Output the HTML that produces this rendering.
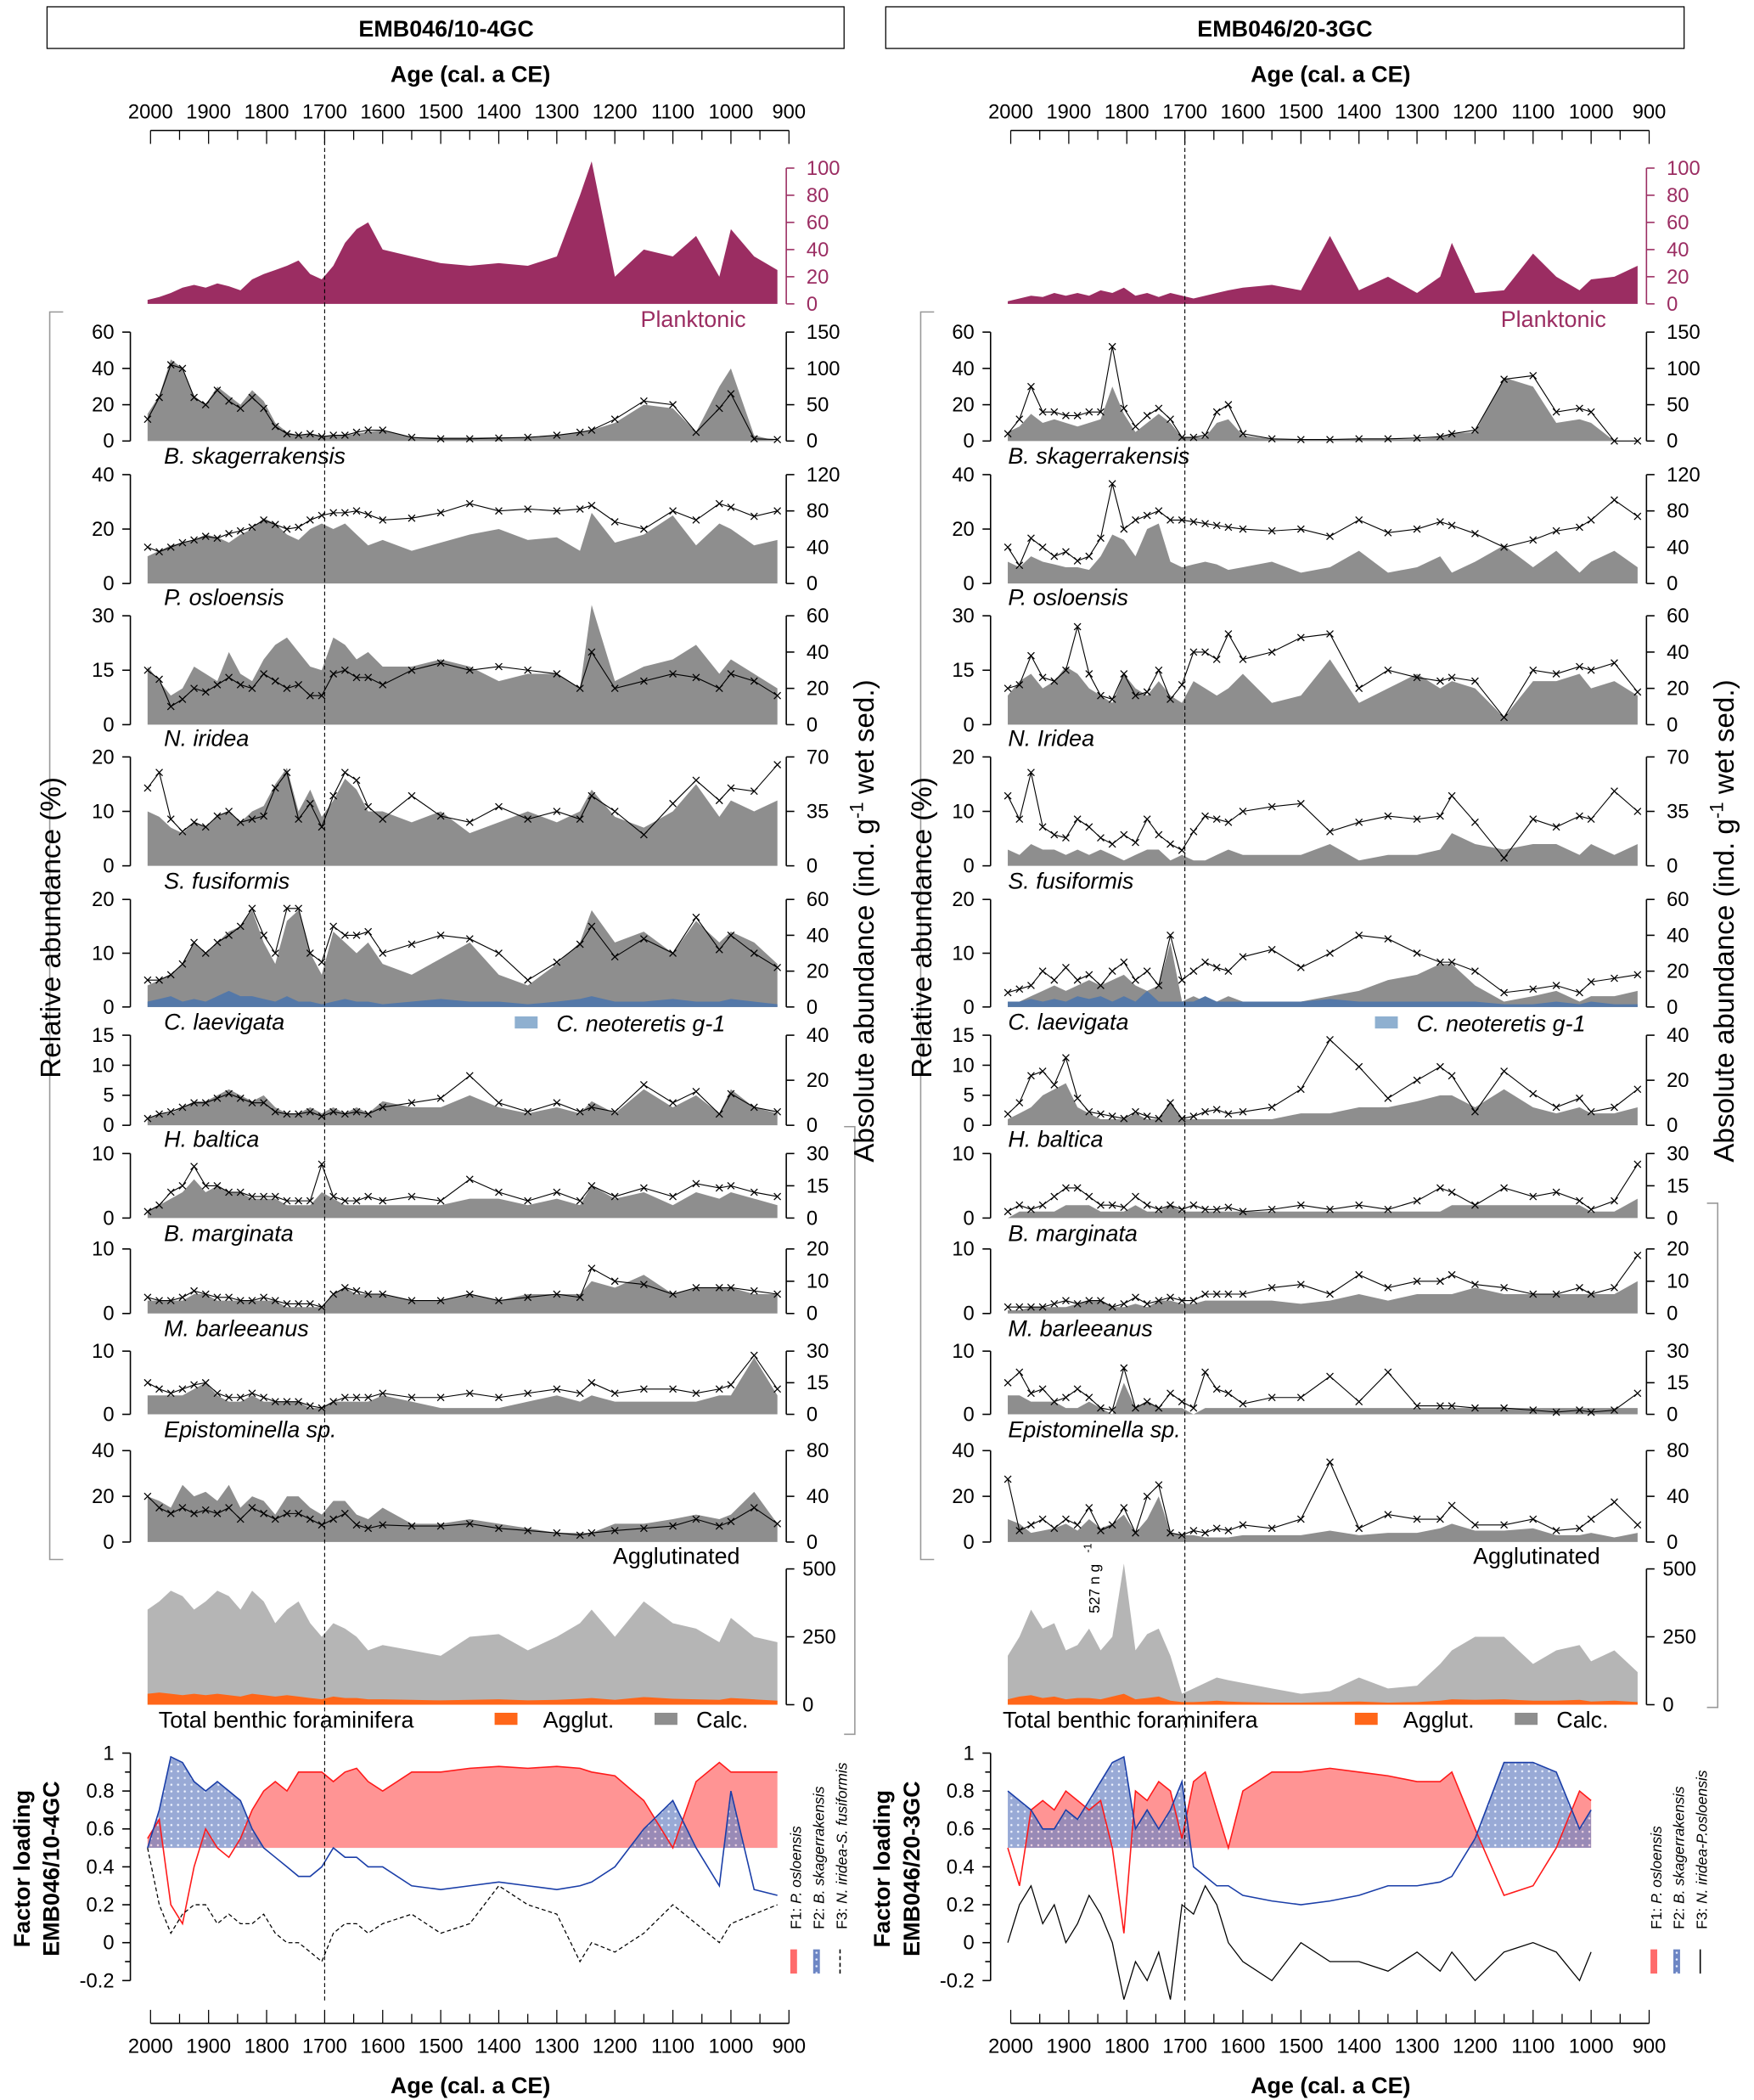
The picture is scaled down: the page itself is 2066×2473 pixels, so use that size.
<!DOCTYPE html>
<html><head><meta charset="utf-8">
<style>
html,body{margin:0;padding:0;background:#fff;}
svg{display:block;}
text{font-family:"Liberation Sans Narrow","Liberation Sans",sans-serif;}
.it{font-style:italic;font-family:"Liberation Sans",sans-serif;}
</style></head>
<body>
<svg id="fig" width="2066" height="2473" viewBox="0 0 1305 1562" xmlns="http://www.w3.org/2000/svg">
<defs>
<pattern id="dots" width="5" height="5" patternUnits="userSpaceOnUse">
<rect width="5" height="5" fill="#6d86c4"/>
<circle cx="2.5" cy="2.5" r="0.8" fill="#e8eeff"/>
</pattern>
</defs>
</svg>
<script>
const ages=[2005,1985,1965,1945,1925,1905,1885,1865,1845,1825,1805,1785,1765,1745,1725,1705,1685,1665,1645,1625,1600,1550,1500,1450,1400,1350,1300,1260,1240,1200,1150,1100,1060,1020,1000,960,920];
const ageTicks=[2000,1900,1800,1700,1600,1500,1400,1300,1200,1100,1000,900];
// LEFT core EMB046/10-4GC
const leftPlank=[3,5,8,12,14,12,15,13,10,18,22,25,28,32,22,18,28,45,55,60,40,35,30,28,30,28,35,80,105,20,40,35,50,20,55,35,25];
const leftBskFill=[15,25,45,40,25,20,30,25,20,28,22,10,5,3,4,3,3,3,4,5,6,2,2,2,2,2,3,5,6,10,20,18,5,30,40,3,0];
const leftBskLine=[30,60,105,100,60,50,70,55,45,60,45,20,10,8,10,6,8,8,12,15,15,5,3,3,4,5,8,12,15,30,55,50,12,45,65,3,2];
const leftPosFill=[10,12,14,15,16,18,17,15,18,20,24,22,18,16,20,22,20,22,18,14,16,12,15,18,20,16,17,12,26,15,18,25,14,22,20,14,16];
const leftPosLine=[40,35,40,45,48,52,50,55,58,62,70,65,60,62,70,75,78,78,80,76,70,72,78,88,80,82,80,82,86,68,60,80,70,88,84,74,80];
const leftNirFill=[16,12,8,10,16,14,12,20,14,12,18,22,24,20,16,15,24,22,18,20,16,16,18,16,12,14,14,10,33,12,16,18,22,14,18,14,10];
const leftNirLine=[30,25,10,14,20,18,22,26,22,20,28,24,20,22,16,16,28,30,26,26,22,30,34,30,32,30,28,20,40,20,24,28,26,20,28,24,16];
const leftSfuFill=[10,9,7,6,8,7,9,10,8,10,11,15,18,10,14,9,12,16,14,10,10,8,10,6,8,10,8,10,14,9,7,10,15,9,12,10,12];
const leftSfuLine=[50,60,30,22,28,25,32,35,28,30,32,50,60,30,40,25,45,60,55,38,30,45,32,28,38,30,35,30,45,35,20,40,55,42,50,48,65];
const leftClaFill=[4,5,6,8,12,10,12,14,15,18,12,8,16,18,10,6,14,12,10,12,8,6,9,12,6,4,8,12,18,12,14,10,16,12,14,12,8];
const leftClaLine=[15,15,18,24,36,30,36,40,45,55,40,30,55,55,30,25,45,40,40,42,30,35,40,38,30,15,25,35,45,28,38,30,50,32,40,30,22];
const leftCneo=[1,1.5,2,1,1.5,1,2,3,2,2,1.5,1,2,1,1,0.5,1,1.5,1,1,0.5,1,1.5,1,1,0.5,1,1.5,2,1,1,1.5,1,1,1.5,1,0.5];
const leftHbaFill=[1,2,2,3,4,4,5,6,5,4,5,3,2,2,3,2,3,2,3,2,4,3,3,5,3,2,3,2,4,2,6,3,5,2,6,3,2];
const leftHbaLine=[3,5,6,8,10,10,12,14,12,10,10,6,5,5,6,4,6,5,6,5,8,10,12,22,10,6,10,6,8,6,18,10,15,5,14,8,6];
const leftBmaFill=[1,2,3,4,6,4,5,4,4,3,3,3,2,2,2,4,3,2,2,2,2,2,2,3,3,2,3,2,5,3,4,2,4,3,4,3,2];
const leftBmaLine=[3,6,12,15,24,15,15,12,12,10,10,10,8,8,8,25,10,8,8,10,8,10,8,18,12,8,12,8,15,10,14,10,16,14,15,12,10];
const leftMbaFill=[2,2,2,2,3,3,2,2,2,2,2,2,1,1,1,1,3,4,3,3,3,2,2,3,2,3,3,3,5,4,6,3,4,4,4,3,3];
const leftMbaLine=[5,4,4,5,7,6,5,5,4,4,5,4,3,3,3,2,6,8,7,6,6,4,4,6,4,5,6,5,14,10,9,6,8,8,8,7,6];
const leftEpiFill=[3,3,3,3,4,5,3,2,2,3,2,2,2,2,1,1,2,2,2,2,3,2,1,1,1,2,3,2,3,2,2,2,2,3,3,9,3];
const leftEpiLine=[15,12,10,12,14,15,10,8,8,10,8,6,6,6,4,3,6,8,8,8,10,8,8,10,8,10,12,10,15,10,12,12,10,12,14,28,12];
const leftAggFill=[20,18,15,25,20,22,18,25,15,20,18,12,20,20,15,12,18,18,12,10,15,8,8,10,8,6,4,4,4,8,8,10,12,10,12,22,8];
const leftAggLine=[40,30,25,30,25,28,25,30,20,30,25,20,25,25,20,15,20,25,15,12,15,14,14,16,12,10,8,6,8,10,12,14,20,14,18,30,16];
const leftTotCalc=[350,380,420,400,350,380,420,400,350,420,380,300,350,380,300,250,300,280,250,200,220,200,180,250,260,200,250,300,350,250,380,300,280,230,320,250,230];
const leftTotAgg=[40,45,40,35,40,35,40,35,30,40,35,30,35,30,25,20,30,25,25,20,20,18,16,18,20,16,18,22,25,18,28,22,20,18,25,20,15];
const leftF1=[0.55,0.65,0.2,0.1,0.4,0.6,0.5,0.45,0.55,0.7,0.8,0.85,0.8,0.9,0.9,0.9,0.85,0.9,0.92,0.85,0.8,0.9,0.9,0.92,0.93,0.92,0.93,0.92,0.9,0.88,0.75,0.5,0.85,0.95,0.9,0.9,0.9];
const leftF2=[0.5,0.7,0.98,0.95,0.85,0.8,0.85,0.8,0.75,0.6,0.5,0.45,0.4,0.35,0.35,0.4,0.5,0.45,0.45,0.4,0.4,0.3,0.28,0.3,0.32,0.3,0.28,0.3,0.32,0.4,0.6,0.75,0.5,0.3,0.8,0.28,0.25];
const leftF3=[0.5,0.2,0.05,0.15,0.2,0.2,0.1,0.15,0.1,0.1,0.15,0.05,0.0,0.0,-0.05,-0.1,0.05,0.1,0.1,0.05,0.1,0.15,0.05,0.1,0.3,0.2,0.15,-0.1,0.0,-0.05,0.05,0.2,0.1,0.0,0.1,0.15,0.2];
// RIGHT core EMB046/20-3GC
const rightPlank=[2,4,6,5,8,6,8,6,10,8,12,6,8,5,8,6,4,6,8,10,12,14,10,50,10,20,8,20,45,8,10,37,20,10,18,20,28];
const rightBskFill=[5,8,15,10,12,10,8,10,12,30,15,5,10,15,10,2,2,2,10,12,3,1,1,1,1,1,1,2,4,5,35,30,10,12,10,0,0];
const rightBskLine=[10,30,75,40,40,35,35,40,40,130,45,20,35,45,30,5,5,8,40,50,10,3,2,2,3,3,4,6,10,15,85,90,40,45,40,0,0];
const rightPosFill=[8,6,10,8,7,6,6,5,10,18,16,10,20,22,8,6,7,8,7,5,6,8,4,6,12,4,6,10,4,8,14,6,12,4,8,12,6];
const rightPosLine=[40,20,50,40,30,35,25,30,50,110,60,70,75,80,70,70,68,66,64,62,60,58,60,52,70,56,60,68,64,55,40,48,58,62,70,92,74];
const rightNirFill=[8,12,14,10,12,16,14,10,8,6,14,10,8,12,8,6,12,10,8,10,14,6,8,18,6,10,14,10,12,10,2,12,12,14,10,12,8];
const rightNirLine=[20,22,38,26,24,30,54,28,16,14,28,16,18,30,14,22,40,40,36,50,36,40,48,50,20,30,26,24,26,24,4,30,28,32,30,34,18];
const rightSfuFill=[3,2,4,3,3,2,3,2,3,2,1,2,3,3,1,2,1,1,2,3,2,2,2,4,1,2,2,3,6,4,3,4,4,2,4,2,4];
const rightSfuLine=[45,30,60,25,20,18,30,25,18,14,20,15,30,20,14,10,22,32,30,28,35,38,40,22,28,32,30,32,45,28,5,30,25,32,30,48,35];
const rightClaFill=[1,1,2,3,4,3,4,5,4,5,6,4,3,4,12,1,2,1,1,2,1,1,1,2,3,5,6,8,8,4,1,2,3,1,2,2,3];
const rightClaLine=[8,10,12,20,15,22,15,18,12,20,25,15,20,12,40,15,20,25,22,20,28,32,22,30,40,38,30,25,25,20,8,10,12,8,14,16,18];
const rightCneo=[1,1,1.5,1,1.5,1,2,1.5,2,1,2,1,3,1,1,1,1,2,1,1,1,1,1,1.5,1,1,1,1,1,1,0.5,0.5,1,0.5,1,0.5,0.5];
const rightHbaFill=[1,2,3,5,6,7,3,2,1,1,1,2,1,1,4,1,1,1,1,1,1,1,2,2,3,3,4,5,5,3,6,3,2,3,2,2,3];
const rightHbaLine=[5,10,22,24,18,30,12,6,5,4,3,6,4,3,10,3,4,6,7,5,6,8,16,38,26,12,20,26,22,6,24,14,8,12,6,8,16];
const rightBmaFill=[0,1,1,1,1,2,2,2,1,1,1,2,1,1,2,1,1,1,1,1,1,1,1,1,1,1,1,1,2,2,2,2,2,2,1,1,3];
const rightBmaLine=[3,6,4,6,10,14,14,10,6,6,5,10,6,4,6,4,6,4,4,5,3,4,6,4,6,4,8,14,12,6,14,10,12,8,4,8,25];
const rightMbaFill=[0.5,0.5,1,1,1,1,1.5,2,2,1,1,1.5,1,2,2,1.5,1.5,2,2,2,2,2,1.5,2,3,2,3,3,3,4,3,3,3,3,3,3,5];
const rightMbaLine=[2,2,2,2,3,4,3,4,4,2,3,5,3,4,5,4,4,6,6,6,6,8,9,6,12,8,10,10,12,9,8,6,6,8,6,8,18];
const rightEpiFill=[3,3,2,2,2,1,1,2,1,0,5,1,2,1,1,1,0,1,1,1,1,1,1,1,1,1,1,1,1,1,1,1,1,1,1,1,1];
const rightEpiLine=[15,20,10,12,6,8,12,8,3,2,22,3,6,3,10,6,3,20,12,10,5,8,8,18,6,20,4,4,4,3,3,2,1,2,1,2,10];
const rightAggFill=[10,8,4,5,6,8,5,10,6,8,12,4,10,20,4,3,3,2,2,2,3,3,3,5,3,4,4,6,8,5,5,6,3,3,4,2,4];
const rightAggLine=[55,10,15,20,12,20,15,30,10,15,30,8,40,50,8,6,10,8,12,10,15,12,20,70,12,24,20,20,32,15,15,20,10,12,20,35,15];
const rightTotCalc=[180,250,350,280,300,200,220,280,200,250,520,200,260,280,180,40,60,80,100,90,80,60,40,50,100,60,70,150,200,250,250,150,200,220,160,200,120];
const rightTotAgg=[20,30,35,25,30,20,25,25,20,30,40,20,25,30,15,10,10,12,15,12,10,8,8,10,12,8,10,15,20,18,20,15,15,18,12,15,10];
const rightF1=[0.5,0.3,0.7,0.75,0.7,0.8,0.75,0.7,0.75,0.5,0.05,0.8,0.75,0.85,0.8,0.55,0.85,0.9,0.7,0.5,0.8,0.9,0.9,0.92,0.9,0.88,0.85,0.85,0.9,0.6,0.25,0.3,0.5,0.8,0.75];
const rightF2=[0.8,0.75,0.7,0.6,0.6,0.7,0.65,0.75,0.85,0.95,0.98,0.6,0.7,0.6,0.7,0.85,0.4,0.35,0.3,0.3,0.25,0.22,0.2,0.22,0.25,0.3,0.3,0.32,0.35,0.55,0.95,0.95,0.9,0.6,0.7];
const rightF3=[0.0,0.2,0.3,0.1,0.2,0.0,0.1,0.25,0.15,0.0,-0.3,-0.1,-0.2,-0.05,-0.3,0.2,0.15,0.3,0.2,0.0,-0.1,-0.2,0.0,-0.1,-0.1,-0.15,-0.05,-0.15,-0.05,-0.2,-0.05,0.0,-0.05,-0.2,-0.05];

const svg=document.getElementById('fig');
const NS='http://www.w3.org/2000/svg';
function mk(tag,attrs,parent){const e=document.createElementNS(NS,tag);for(const k in attrs)e.setAttribute(k,attrs[k]);(parent||svg).appendChild(e);return e;}
function txt(s,x,y,size,opts,parent){const e=mk('text',Object.assign({x:x,y:y,'font-size':size},opts||{}),parent);e.textContent=s;return e;}

const cols=[
 {off:0,name:'EMB046/10-4GC',sp3:'N. iridea',f3:'F3: N. iridea-S. fusiformis',f3dash:'3,2',
  d:{plank:leftPlank,Bsk:[leftBskFill,leftBskLine],Pos:[leftPosFill,leftPosLine],Nir:[leftNirFill,leftNirLine],Sfu:[leftSfuFill,leftSfuLine],Cla:[leftClaFill,leftClaLine],Hba:[leftHbaFill,leftHbaLine],Bma:[leftBmaFill,leftBmaLine],Mba:[leftMbaFill,leftMbaLine],Epi:[leftEpiFill,leftEpiLine],Agg:[leftAggFill,leftAggLine],cneo:leftCneo,calc:leftTotCalc,agg:leftTotAgg,F1:leftF1,F2:leftF2,F3:leftF3}},
 {off:640,name:'EMB046/20-3GC',sp3:'N. Iridea',f3:'F3: N. iridea-P.osloensis',f3dash:'',
  d:{plank:rightPlank,Bsk:[rightBskFill,rightBskLine],Pos:[rightPosFill,rightPosLine],Nir:[rightNirFill,rightNirLine],Sfu:[rightSfuFill,rightSfuLine],Cla:[rightClaFill,rightClaLine],Hba:[rightHbaFill,rightHbaLine],Bma:[rightBmaFill,rightBmaLine],Mba:[rightMbaFill,rightMbaLine],Epi:[rightEpiFill,rightEpiLine],Agg:[rightAggFill,rightAggLine],cneo:rightCneo,calc:rightTotCalc,agg:rightTotAgg,F1:rightF1,F2:rightF2,F3:rightF3}}
];
const panels=[
 {k:'Bsk',y0:328,y1:247,lm:60,lt:[0,20,40,60],rm:150,rt:[0,50,100,150],lab:'B. skagerrakensis',ly:345},
 {k:'Pos',y0:434,y1:353,lm:40,lt:[0,20,40],rm:120,rt:[0,40,80,120],lab:'P. osloensis',ly:450},
 {k:'Nir',y0:539,y1:458,lm:30,lt:[0,15,30],rm:60,rt:[0,20,40,60],lab:'sp3',ly:555},
 {k:'Sfu',y0:644,y1:563,lm:20,lt:[0,10,20],rm:70,rt:[0,35,70],lab:'S. fusiformis',ly:661},
 {k:'Cla',y0:749,y1:669,lm:20,lt:[0,10,20],rm:60,rt:[0,20,40,60],lab:'C. laevigata',ly:766},
 {k:'Hba',y0:837,y1:770,lm:15,lt:[0,5,10,15],rm:40,rt:[0,20,40],lab:'H. baltica',ly:853},
 {k:'Bma',y0:906,y1:858,lm:10,lt:[0,10],rm:30,rt:[0,15,30],lab:'B. marginata',ly:923},
 {k:'Mba',y0:977,y1:929,lm:10,lt:[0,10],rm:20,rt:[0,10,20],lab:'M. barleeanus',ly:994},
 {k:'Epi',y0:1052,y1:1005,lm:10,lt:[0,10],rm:30,rt:[0,15,30],lab:'Epistominella sp.',ly:1069},
 {k:'Agg',y0:1147,y1:1079,lm:40,lt:[0,20,40],rm:80,rt:[0,40,80],lab:'',ly:0}
];

function lin(d0,d1,r0,r1){return v=>r0+(v-d0)*(r1-r0)/(d1-d0);}
function areaPts(xs,ys,base){let p=xs[0].toFixed(1)+','+base;for(let i=0;i<xs.length;i++)p+=' '+xs[i].toFixed(1)+','+ys[i].toFixed(1);p+=' '+xs[xs.length-1].toFixed(1)+','+base;return p;}
function linePts(xs,ys){return xs.map((x,i)=>x.toFixed(1)+','+ys[i].toFixed(1)).join(' ');}

cols.forEach((c,ci)=>{
 const g=mk('g',{});
 
 
 const ax=lin(2000,900,112+c.off,587+c.off);
 const AL=97+c.off, AR=585+c.off;
 const hb=mk('rect',{x:ci?659:35,y:5,width:ci?594:593,height:31,fill:'none',stroke:'#000','stroke-width':0.8},g);
 
 
 const ht=txt(c.name,ci?956:332,27,17,{'font-weight':'bold','text-anchor':'middle'},g);
 
 
 const tt=txt('Age (cal. a CE)',350+c.off,61,17,{'font-weight':'bold','text-anchor':'middle'},g);
 
 
 [[97,88,-1],[1505,1527,1]].forEach((a,ai)=>{
  const axg=mk('g',{},g);
  
  
  mk('line',{x1:ax(2000),x2:ax(900),y1:a[0],y2:a[0],stroke:'#000','stroke-width':1},axg);
  for(let y=2000;y>=900;y-=50){const big=y%100==0;mk('line',{x1:ax(y),x2:ax(y),y1:a[0],y2:a[0]+(ai==0?(big?10:7):-(big?10:7)),stroke:'#000','stroke-width':0.8},axg);}
  ageTicks.forEach(t=>{const e=txt(String(t),ax(t),a[1],15,{'text-anchor':'middle'},axg);});
 });
 const bt=txt('Age (cal. a CE)',350+c.off,1557,17,{'font-weight':'bold','text-anchor':'middle'},g);
 
 
 const xs=ages.map(ax);
 const py=lin(0,100,226,125);
 const pf=mk('polygon',{points:areaPts(xs,c.d.plank.map(py),226),fill:'#9b2d62'},g);
 
 
 mk('line',{x1:AR,x2:AR,y1:125,y2:226,stroke:'#9b2d62','stroke-width':1},g);
 [0,20,40,60,80,100].forEach(t=>{mk('line',{x1:AR,x2:AR+6,y1:py(t),y2:py(t),stroke:'#9b2d62'},g);const e=txt(String(t),AR+15,py(t)+5,15,{fill:'#9b2d62'},g);});
 const pl=txt('Planktonic',AR-30,243,17,{fill:'#9b2d62','text-anchor':'end'},g);
 
 
 const labX=ci?750:122;
 panels.forEach(p=>{
  const pg=mk('g',{},g);
  
  
  const yl=lin(0,p.lm,p.y0,p.y1), yr=lin(0,p.rm,p.y0,p.y1);
  const [f,l]=c.d[p.k];
  const fa=mk('polygon',{points:areaPts(xs,f.map(yl),p.y0),fill:'#8e8e8e'},pg);
  
  
  if(p.k=='Cla'){const b=mk('polygon',{points:areaPts(xs,c.d.cneo.map(yl),p.y0),fill:'#5478a8'},pg);}
  const ly=l.map(yr);
  const ln=mk('polyline',{points:linePts(xs,ly),fill:'none',stroke:'#000','stroke-width':0.7},pg);
  
  
  xs.forEach((x,i)=>{const m=mk('path',{d:`M${x-2.5},${ly[i]-2.5}L${x+2.5},${ly[i]+2.5}M${x-2.5},${ly[i]+2.5}L${x+2.5},${ly[i]-2.5}`,stroke:'#000','stroke-width':0.8},pg);});
  mk('line',{x1:AL,x2:AL,y1:p.y1,y2:p.y0,stroke:'#000','stroke-width':1},pg);
  mk('line',{x1:AR,x2:AR,y1:p.y1,y2:p.y0,stroke:'#000','stroke-width':1},pg);
  p.lt.forEach(t=>{mk('line',{x1:AL-6,x2:AL,y1:yl(t),y2:yl(t),stroke:'#000'},pg);const e=txt(String(t),AL-12,yl(t)+5,15,{'text-anchor':'end'},pg);});
  p.rt.forEach(t=>{mk('line',{x1:AR,x2:AR+6,y1:yr(t),y2:yr(t),stroke:'#000'},pg);const e=txt(String(t),AR+15,yr(t)+5,15,{},pg);});
  if(p.lab){const e=txt(p.lab=='sp3'?c.sp3:p.lab,labX,p.ly,17,{class:'it'},pg);}
 });
 const ag=txt('Agglutinated',456+c.off,1163,17,{},g);
 
 
 mk('rect',{x:383+c.off,y:756,width:17,height:9,fill:'#8fb0d0'},g);
 const cn=txt('C. neoteretis g-1',414+c.off,767,17,{class:'it'},g);
 
 
 const ty=lin(0,500,1268,1167);
 const tc=mk('polygon',{points:areaPts(xs,c.d.calc.map(v=>ty(Math.min(v,520))),1268),fill:'#b5b5b5'},g);
 
 
 const to=mk('polygon',{points:areaPts(xs,c.d.agg.map(ty),1268),fill:'#ff6619'},g);
 
 
 mk('line',{x1:AR,x2:AR,y1:1167,y2:1268,stroke:'#000'},g);
 [0,250,500].forEach(t=>{mk('line',{x1:AR,x2:AR+6,y1:ty(t),y2:ty(t),stroke:'#000'},g);const e=txt(String(t),AR+12,ty(t)+5,15,{},g);});
 const tb=txt('Total benthic foraminifera',ci?746:118,1285,17,{},g);
 
 
 mk('rect',{x:368+c.off,y:1274,width:17,height:9,fill:'#ff6619'},g);
 const la=txt('Agglut.',404+c.off,1285,17,{},g);
 
 
 mk('rect',{x:487+c.off,y:1274,width:17,height:9,fill:'#8e8e8e'},g);
 const lc=txt('Calc.',518+c.off,1285,17,{},g);
 
 
 if(ci==1){const a=txt('527 n g',818,1200,11,{transform:'rotate(-90 818 1200)'},g);txt('-1',812,1155,8,{transform:'rotate(-90 812 1155)'},g);}
 const fy=lin(0,1,1445,1304);
 const fxs=xs.slice(0,c.d.F1.length);
 const clipId='clip'+ci;
 const cp=mk('clipPath',{id:clipId},g);
 mk('rect',{x:AL,y:1290,width:AR-AL,height:fy(0.5)-1290},cp);
 const r=mk('polygon',{points:areaPts(fxs,c.d.F1.map(fy),fy(0.5)),fill:'#ff6b6b','fill-opacity':0.72,'clip-path':`url(#${clipId})`},g);
 
 
 const b=mk('polygon',{points:areaPts(fxs,c.d.F2.map(fy),fy(0.5)),fill:'url(#dots)','fill-opacity':0.7,'clip-path':`url(#${clipId})`},g);
 
 
 const l1=mk('polyline',{points:linePts(fxs,c.d.F1.map(fy)),fill:'none',stroke:'#ff1a1a','stroke-width':1},g);
 
 
 const l2=mk('polyline',{points:linePts(fxs,c.d.F2.map(fy)),fill:'none',stroke:'#1a3ea8','stroke-width':1},g);
 
 
 const f3o={points:linePts(fxs,c.d.F3.map(fy)),fill:'none',stroke:'#000','stroke-width':0.8};
 if(c.f3dash)f3o['stroke-dasharray']=c.f3dash;
 const l3=mk('polyline',f3o,g);
 
 
 mk('line',{x1:AL,x2:AL,y1:fy(1),y2:fy(-0.2),stroke:'#000'},g);
 [1,0.8,0.6,0.4,0.2,0,-0.2].forEach(t=>{mk('line',{x1:AL-6,x2:AL,y1:fy(t),y2:fy(t),stroke:'#000'},g);const e=txt(String(t),AL-12,fy(t)+5,15,{'text-anchor':'end'},g);});
 [0.9,0.7,0.5,0.3,0.1,-0.1].forEach(t=>mk('line',{x1:AL-4,x2:AL,y1:fy(t),y2:fy(t),stroke:'#000'},g));
 const fl=txt('Factor loading',22+c.off,1390,17,{'font-weight':'bold','font-family':'Liberation Sans','text-anchor':'middle',transform:`rotate(-90 ${22+c.off} 1390)`},g);
 
 
 const fl2=txt(c.name,44+c.off,1390,17,{'font-weight':'bold','font-family':'Liberation Sans','text-anchor':'middle',transform:`rotate(-90 ${44+c.off} 1390)`},g);
 
 
 const legs=[['F1: ','P. osloensis','#ff6b6b'],['F2: ','B. skagerrakensis','url(#dots)'],[c.f3.slice(0,4),c.f3.slice(4),'none']];
 legs.forEach((L,i)=>{const x=596+c.off+i*17;const e=txt('',x,1435,11,{transform:`rotate(-90 ${x} 1435)`},g);const s1=mk('tspan',{},e);s1.textContent=L[0];const s2=mk('tspan',{'font-style':'italic'},e);s2.textContent=L[1];
  if(i<2)mk('rect',{x:x-8,y:1450,width:5,height:18,fill:L[2]},g);else{mk('line',{x1:x-5,x2:x-5,y1:1450,y2:1468,stroke:'#000','stroke-dasharray':c.f3dash||'none'},g);}
 });
 const dl=mk('line',{x1:ax(1700),x2:ax(1700),y1:100,y2:1490,stroke:'#000','stroke-width':0.7,'stroke-dasharray':'3,2'},g);
 
 
 const bx=37+c.off+(ci?8:0);
 mk('path',{d:`M${bx+10},232H${bx}V1160H${bx+10}`,fill:'none',stroke:'#999','stroke-width':1},g);
 const ra=txt('Relative abundance (%)',bx+8,690,21,{'font-family':'Liberation Sans','text-anchor':'middle',transform:`rotate(-90 ${bx+8} 690)`},g);
 
 
 const rx=ci?1278:636;
 mk('path',{d:ci?`M${rx-8},895H${rx}V1270H${rx-8}`:`M${rx-8},838H${rx}V1290H${rx-8}`,fill:'none',stroke:'#999','stroke-width':1},g);
 const abx=ci?1290:650;
 const ab=txt('',abx,685,21,{'font-family':'Liberation Sans','text-anchor':'middle',transform:`rotate(-90 ${abx} 685)`},g);
 
 
 const t1=mk('tspan',{},ab);t1.textContent='Absolute abundance (ind. g';
 const t2=mk('tspan',{dy:-8,'font-size':14},ab);t2.textContent='-1';
 const t3=mk('tspan',{dy:8},ab);t3.textContent=' wet sed.)';
});
</script>
</body></html>
